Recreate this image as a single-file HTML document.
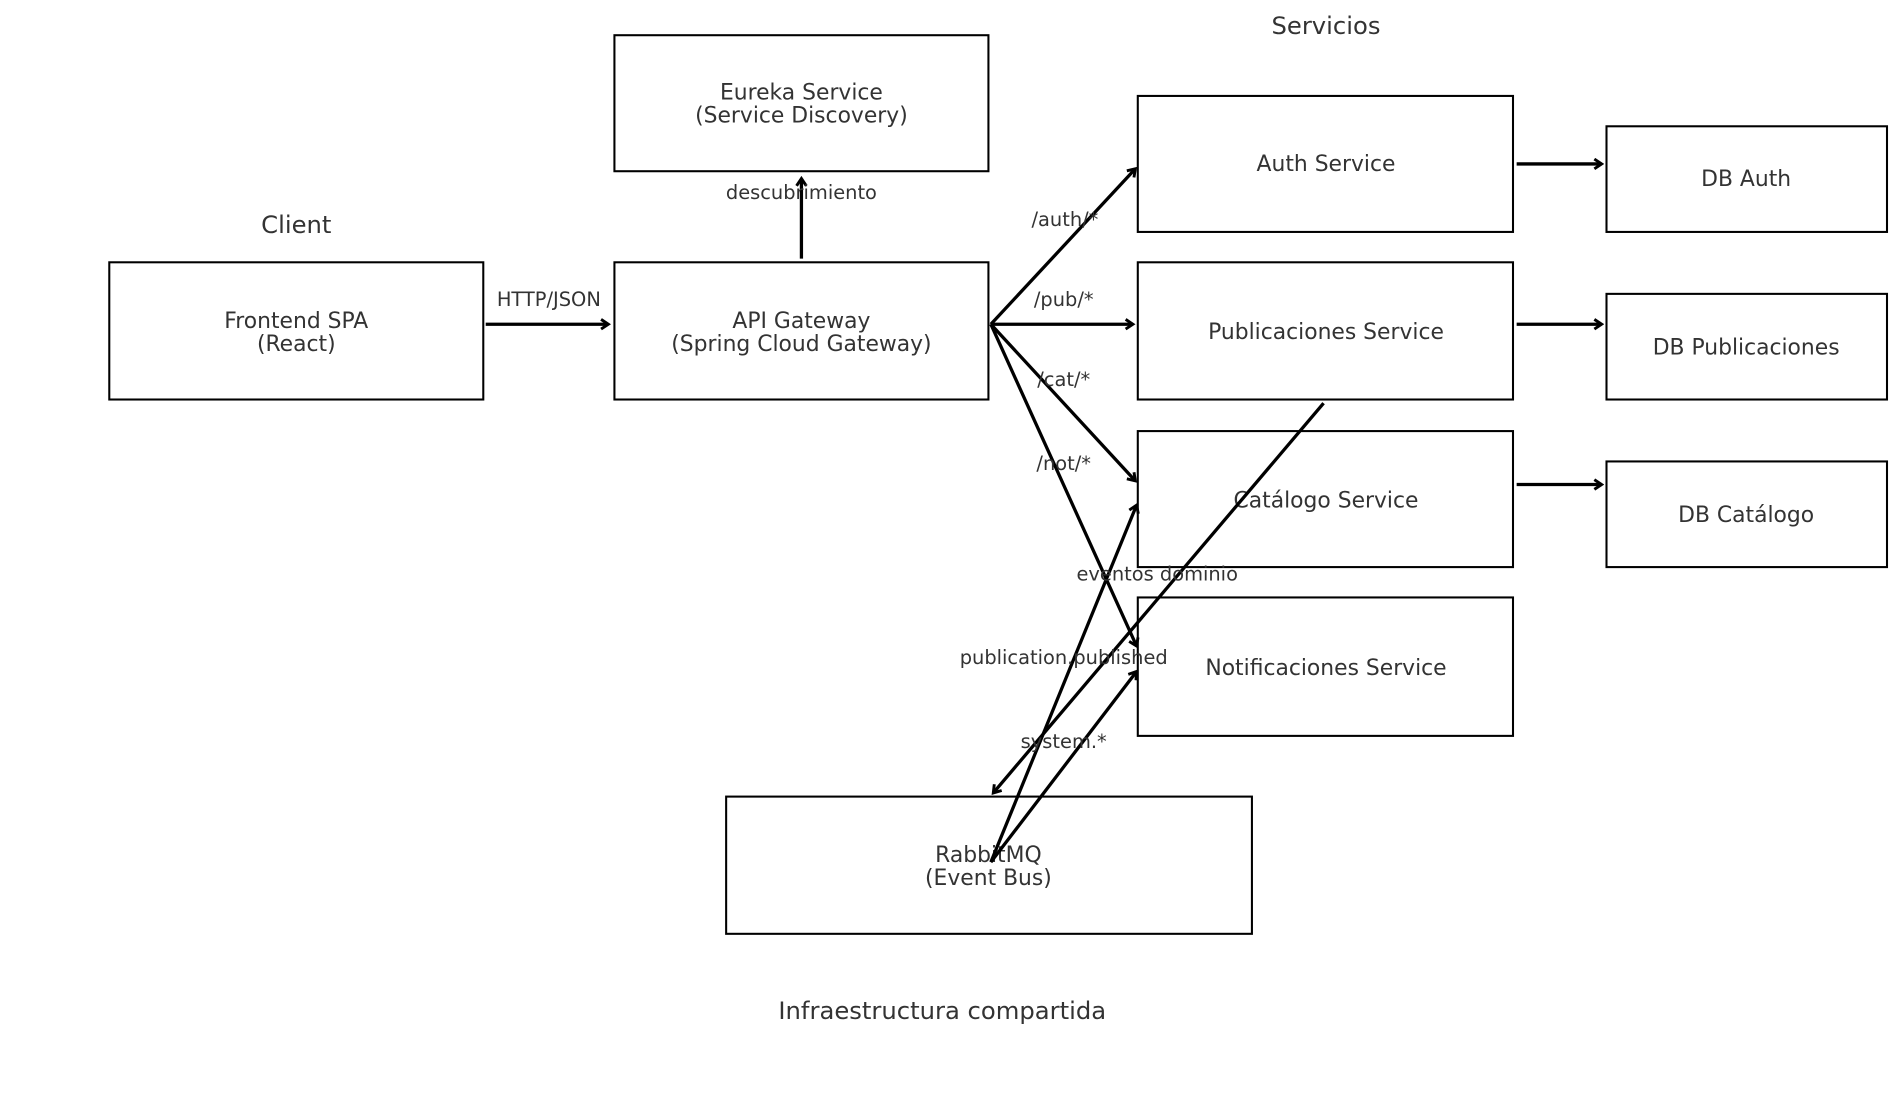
<!DOCTYPE html>
<html><head><meta charset="utf-8"><style>
html,body{margin:0;padding:0;background:#fff;}
svg{display:block;}
text{font-family:"DejaVu Sans","Liberation Sans",sans-serif;fill:#333;text-anchor:middle;}
.b{font-size:18px;}
.l{font-size:16px;}
.t{font-size:20px;}
rect{fill:#fff;stroke:#000;stroke-width:1.7;}
line{stroke:#000;stroke-width:2.7;marker-end:url(#ah);}
</style></head><body>
<svg width="1904" height="1102" viewBox="0 0 1568 907.5" preserveAspectRatio="none" xmlns="http://www.w3.org/2000/svg">
<defs><marker id="ah" markerWidth="10" markerHeight="10" refX="8" refY="5" orient="auto" markerUnits="userSpaceOnUse"><path d="M2,1 L8,5 L2,9" fill="none" stroke="#000" stroke-width="2.4"/></marker></defs>

<text class="t" x="244" y="192">Client</text>
<text class="t" x="1092" y="28">Servicios</text>
<text class="t" x="776" y="839">Infraestructura compartida</text>

<rect x="506" y="29" width="308" height="112"/>
<text class="b" x="660" y="82">Eureka Service</text><text class="b" x="660" y="101">(Service Discovery)</text>

<rect x="90" y="216" width="308" height="113"/>
<text class="b" x="244" y="270">Frontend SPA</text><text class="b" x="244" y="289">(React)</text>

<rect x="506" y="216" width="308" height="113"/>
<text class="b" x="660" y="270">API Gateway</text><text class="b" x="660" y="289">(Spring Cloud Gateway)</text>

<rect x="937" y="79" width="309" height="112"/>
<text class="b" x="1092" y="141">Auth Service</text>
<rect x="937" y="216" width="309" height="113"/>
<text class="b" x="1092" y="279">Publicaciones Service</text>
<rect x="937" y="355" width="309" height="112"/>
<text class="b" x="1092" y="418">Catálogo Service</text>
<rect x="937" y="492" width="309" height="114"/>
<text class="b" x="1092" y="556">Notificaciones Service</text>

<rect x="1323" y="104" width="231" height="87"/>
<text class="b" x="1438" y="153">DB Auth</text>
<rect x="1323" y="242" width="231" height="87"/>
<text class="b" x="1438" y="292">DB Publicaciones</text>
<rect x="1323" y="380" width="231" height="87"/>
<text class="b" x="1438" y="430">DB Catálogo</text>

<rect x="598" y="656" width="433" height="113"/>
<text class="b" x="814" y="710">RabbitMQ</text><text class="b" x="814" y="729">(Event Bus)</text>

<line x1="400" y1="267" x2="501" y2="267"/>
<line x1="660" y1="213" x2="660" y2="147"/>
<line x1="816" y1="267" x2="935" y2="139"/>
<line x1="816" y1="267" x2="933" y2="267"/>
<line x1="816" y1="267" x2="935" y2="396"/>
<line x1="816" y1="267" x2="936" y2="532"/>
<line x1="1249" y1="135" x2="1319" y2="135"/>
<line x1="1249" y1="267" x2="1319" y2="267"/>
<line x1="1249" y1="399" x2="1319" y2="399"/>
<line x1="1090" y1="332" x2="818" y2="653"/>
<line x1="816" y1="710" x2="936" y2="416"/>
<line x1="816" y1="710" x2="936" y2="553"/>

<text class="l" x="452" y="252">HTTP/JSON</text>
<text class="l" x="660" y="164">descubrimiento</text>
<text class="l" x="877" y="186">/auth/*</text>
<text class="l" x="876" y="252">/pub/*</text>
<text class="l" x="876" y="318">/cat/*</text>
<text class="l" x="876" y="387">/not/*</text>
<text class="l" x="953" y="478">eventos dominio</text>
<text class="l" x="876" y="547">publication.published</text>
<text class="l" x="876" y="616">system.*</text>
</svg>
</body></html>
